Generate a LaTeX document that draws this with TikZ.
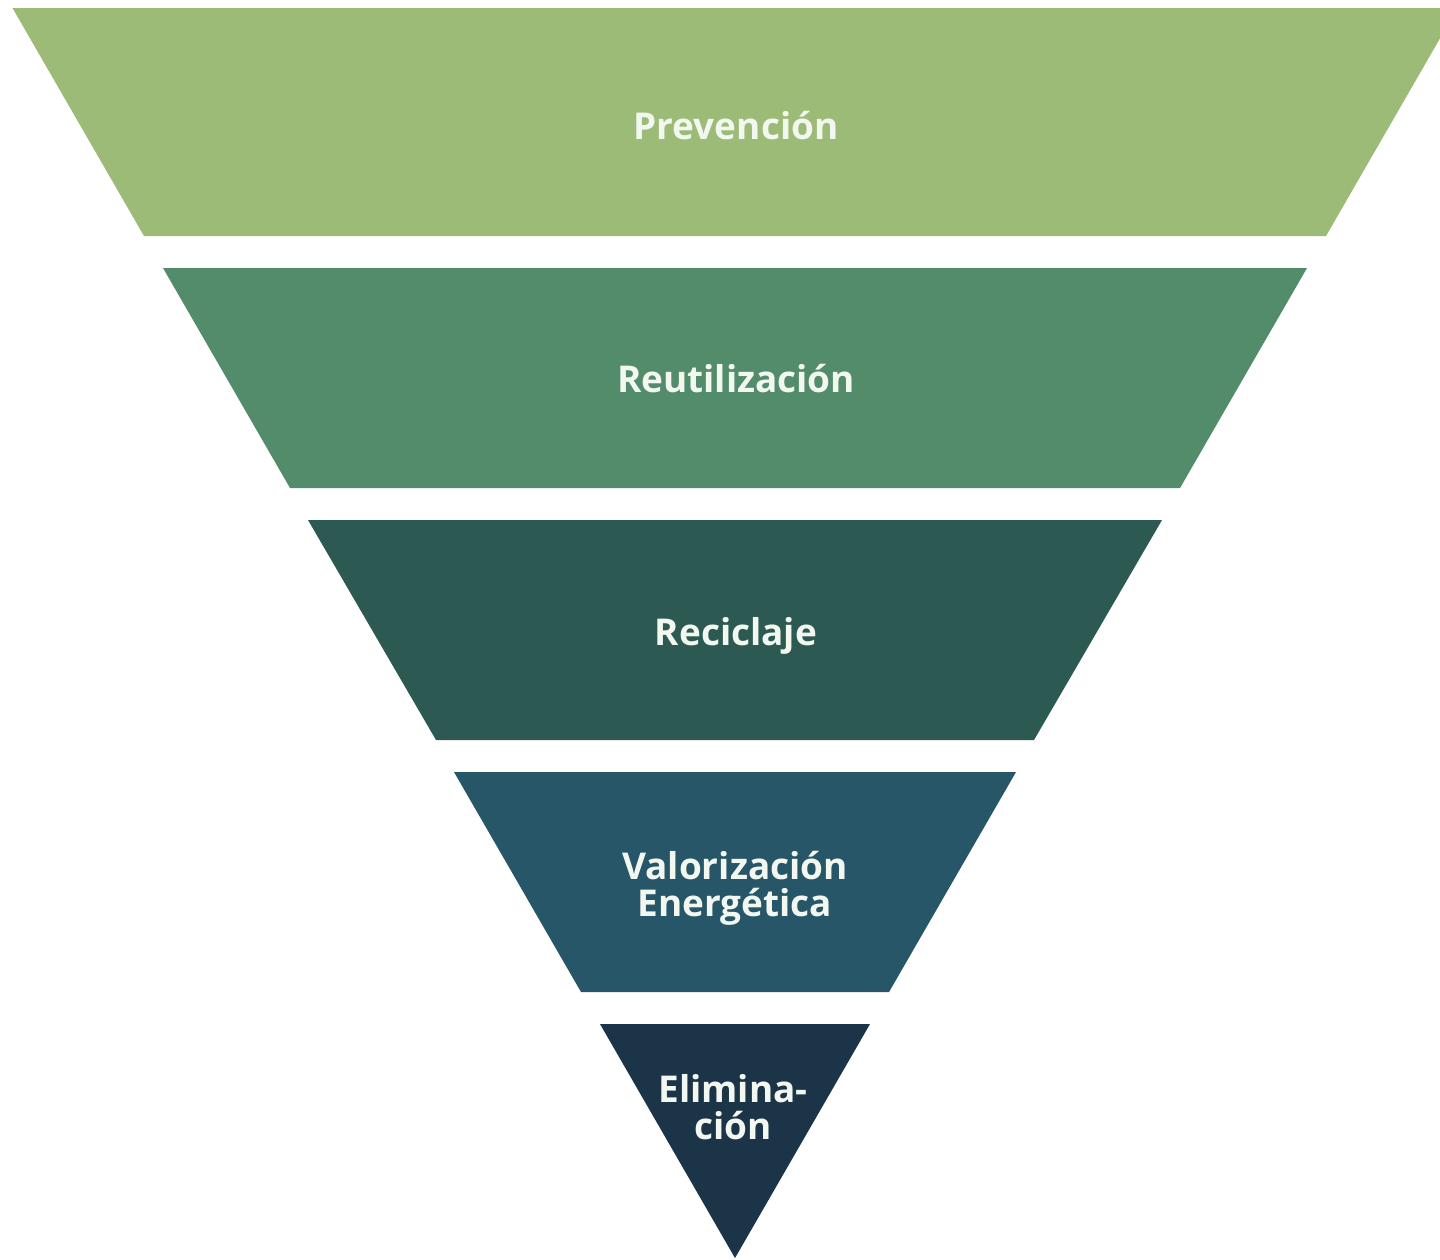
\documentclass[tikz,border=0pt]{standalone}
\usepackage{fontspec}
\setmainfont{Open Sans}
\definecolor{G1}{RGB}{155,187,118}
\definecolor{G2}{RGB}{82,140,106}
\definecolor{G3}{RGB}{44,90,82}
\definecolor{B4}{RGB}{38,86,104}
\definecolor{B5}{RGB}{28,52,71}
\definecolor{T0}{RGB}{242,248,240}
\begin{document}
\begin{tikzpicture}[x=0.01cm, y=-0.01cm,
    lbl/.style={text=T0, inner sep=0pt, align=center,
                font=\bfseries\fontsize{10.5}{10.6}\selectfont}]
      \useasboundingbox (0,0) rectangle (1440,1259);
      \clip (0,0) rectangle (1440,1259);
      \fill[G1] (12.5,8) -- (1457.5,8) -- (1326,236) -- (144,236) -- cycle;
      \fill[G2] (163,268) -- (1307,268) -- (1180,488) -- (290,488) -- cycle;
      \fill[G3] (308,520) -- (1162,520) -- (1034,740) -- (436,740) -- cycle;
      \fill[B4] (454,772) -- (1016,772) -- (889,992) -- (581,992) -- cycle;
      \fill[B5] (600,1024) -- (870,1024) -- (735,1258) -- cycle;
      \node[lbl] (prev) at (736,126) {Prevención};
      \node[lbl] (reut) at (736,378.5) {Reutilización};
      \node[lbl] (recic) at (736,636) {Reciclaje};
      \node[lbl] (valor) at (735,888) {Valorización\\Energética};
      \node[lbl] (elim) at (733,1107) {Elimina-\\ción};
    \end{tikzpicture}
\end{document}
